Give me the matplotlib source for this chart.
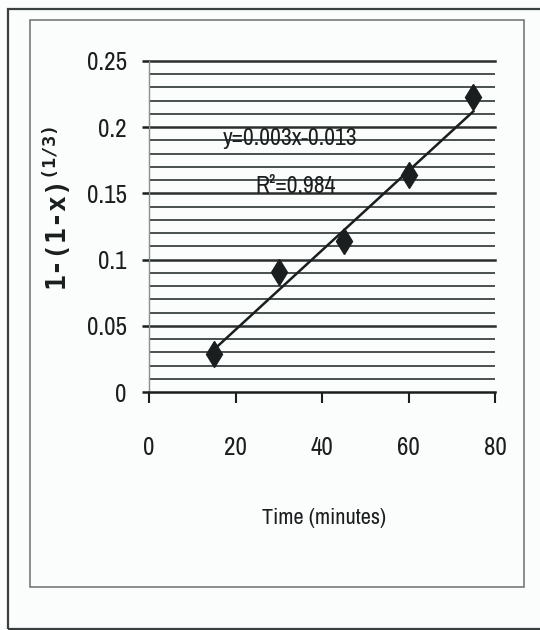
import matplotlib
matplotlib.use("Agg")
import matplotlib.pyplot as plt
from matplotlib import font_manager
from matplotlib.patches import Rectangle
import numpy as np

# Reaction data: time (min) vs. 1-(1-x)^(1/3)
time_min = [15, 30, 45, 60, 75]
conversion_fn = [0.029, 0.091, 0.114, 0.164, 0.223]

# Linear trendline as reported on the chart
slope = 0.003
intercept = -0.013
r_squared = 0.984

x_ticks = [0, 20, 40, 60, 80]
y_ticks = [0, 0.05, 0.1, 0.15, 0.2, 0.25]
y_tick_labels = ["0", "0.05", "0.1", "0.15", "0.2", "0.25"]

# Prefer a narrow sans face for the labels when one is installed
names = sorted({f.name for f in font_manager.fontManager.ttflist})
narrow_name = next((n for n in names if "Narrow" in n or "Condensed" in n), None)
condensed = [f for f in font_manager.fontManager.ttflist
             if f.name == "DejaVu Sans" and "condensed" in str(f.stretch)]
if narrow_name:
    label_font = dict(family=[narrow_name, "DejaVu Sans"])
elif condensed:
    label_font = dict(family=["DejaVu Sans"], fontstretch="condensed")
else:
    label_font = dict(family=["Liberation Sans", "DejaVu Sans"])

ink = "#1a1e1e"
paper = "#fbfcfc"

plt.rcParams["mathtext.fontset"] = "custom"
plt.rcParams["mathtext.rm"] = "DejaVu Sans Mono:bold"

fig = plt.figure(figsize=(5.4, 6.3), dpi=100, facecolor=paper)

# Page frames
fig.patches.append(Rectangle((8 / 540, 1 / 630), 0.99, 620 / 630,
                             transform=fig.transFigure, fill=False,
                             edgecolor="#3a3f3f", lw=1.6))
fig.patches.append(Rectangle((30 / 540, 43 / 630), 494 / 540, 567 / 630,
                             transform=fig.transFigure, fill=False,
                             edgecolor="#6a6f6f", lw=1.1))

ax = fig.add_axes([149 / 540, 238 / 630, 346 / 540, 331 / 630])
ax.set_facecolor(paper)
ax.set_xlim(0, 80)
ax.set_ylim(0, 0.25)

# Horizontal gridlines: major every 0.05, minor every 0.01
for v in np.arange(0.01, 0.25, 0.01):
    if abs(round(v / 0.05) * 0.05 - v) > 1e-9:
        ax.axhline(v, color="#4a4f4f", lw=1.4, zorder=1)
for v in y_ticks[1:]:
    ax.axhline(v, color="#2a2e2e", lw=1.8, zorder=1, clip_on=False)

for s in ["top", "right"]:
    ax.spines[s].set_visible(False)
ax.spines["left"].set_color("#8a8f8f")
ax.spines["left"].set_linewidth(1.0)
ax.spines["bottom"].set_color(ink)
ax.spines["bottom"].set_linewidth(1.8)

ax.set_xticks(x_ticks)
ax.set_xticklabels([str(t) for t in x_ticks], fontsize=18, color=ink, **label_font)
ax.set_yticks(y_ticks)
ax.set_yticklabels(y_tick_labels, fontsize=18, color=ink, **label_font)
ax.tick_params(axis="x", direction="out", length=8, width=1.5, color=ink, pad=24)
ax.tick_params(axis="y", direction="out", length=5, width=1.8, color=ink, pad=11)

# Trendline over the sampled range
xs = np.array([min(time_min), max(time_min)])
ax.plot(xs, slope * xs + intercept, color=ink, lw=1.8, zorder=3)

ax.plot(time_min, conversion_fn, linestyle="none", marker="d", markersize=13,
        color=ink, markeredgecolor=ink, zorder=4)

ax.text(32.6, 0.1918, f"y={slope}x-{abs(intercept)}", fontsize=17,
        color=ink, ha="center", va="center", zorder=5, **label_font)
ax.text(34.0, 0.155, f"R²={r_squared}", fontsize=17,
        color=ink, ha="center", va="center", zorder=5, **label_font)

fig.text(324 / 540, 1 - 518 / 630, "Time (minutes)", fontsize=16,
         color=ink, ha="center", va="center", **label_font)
fig.text(57 / 540, 1 - 208 / 630, r"1-(1-x)$^{\mathrm{(1/3)}}$", family="DejaVu Sans Mono",
         weight="bold", fontsize=19, color=ink, rotation=90, ha="center", va="center")

fig.savefig("out.png", dpi=100, facecolor=paper)
